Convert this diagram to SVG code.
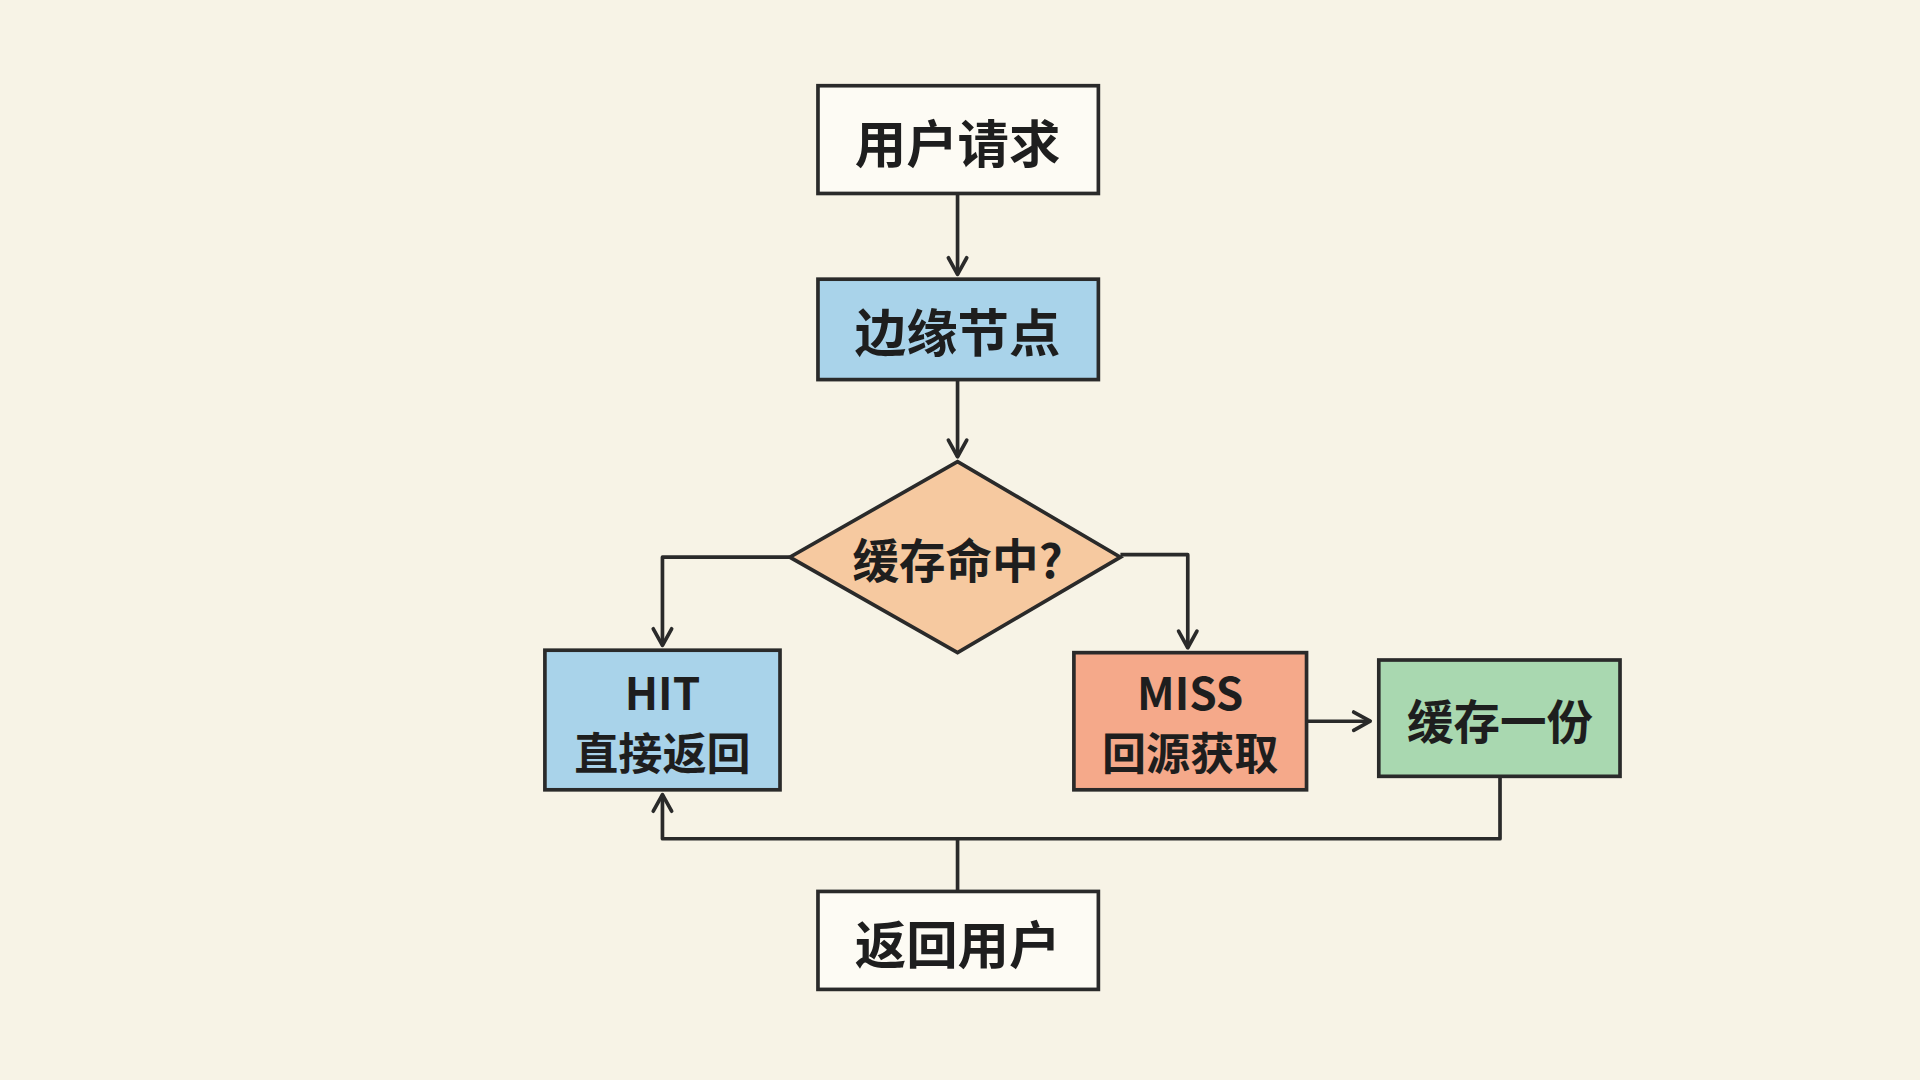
<svg xmlns="http://www.w3.org/2000/svg" width="1920" height="1080" viewBox="0 0 1920 1080">
<defs>
<style>
.n{stroke:#2a2a2a;stroke-width:3}
.t{font-family:"Noto Sans CJK SC","Liberation Sans",sans-serif;font-weight:bold;fill:#1e1e1e;text-anchor:middle;dominant-baseline:central}
.c{fill:none;stroke:#2a2a2a;stroke-width:3;stroke-linejoin:round}
</style>
<marker id="a" viewBox="0 0 12 12" refX="10" refY="6" markerWidth="18" markerHeight="18" markerUnits="userSpaceOnUse" orient="auto" overflow="visible">
<path d="M1,1 L10,6 L1,11" fill="none" stroke="#2a2a2a" stroke-width="2" stroke-linecap="round" stroke-linejoin="round"/>
</marker>
</defs>
<rect width="1920" height="1080" fill="#f7f3e6"/>
<g transform="scale(1.2245)">
<g id="connectors">
<path class="c" d="M782,158 V224" marker-end="url(#a)"/>
<path class="c" d="M782,310 V373" marker-end="url(#a)"/>
<path class="c" d="M645,455 H541 V527" marker-end="url(#a)"/>
<path class="c" d="M915,453 H970 V529" marker-end="url(#a)"/>
<path class="c" d="M1067,589 H1119" marker-end="url(#a)"/>
<path class="c" d="M1225,634 V685 H541 V649" marker-end="url(#a)"/>
<path class="c" d="M782,685 V728"/>
</g>
<g id="n1"><rect class="n" x="668" y="70" width="229" height="88" fill="#fdfbf4"/><text class="t" x="782" y="115" font-size="42">用户请求</text></g>
<g id="n2"><rect class="n" x="668" y="228" width="229" height="82" fill="#a9d3ea"/><text class="t" x="782" y="269" font-size="42">边缘节点</text></g>
<g id="n3"><polygon class="n" points="782,377 915,455 782,533 645,455" fill="#f6c9a0"/><text class="t" x="782" y="455" font-size="38">缓存命中?</text></g>
<g id="n4"><rect class="n" x="445" y="531" width="192" height="114" fill="#a9d3ea"/><text class="t" x="541" y="564" font-size="36">HIT</text><text class="t" x="541" y="613" font-size="36">直接返回</text></g>
<g id="n5"><rect class="n" x="877" y="533" width="190" height="112" fill="#f5a98a"/><text class="t" x="972" y="564" font-size="36">MISS</text><text class="t" x="972" y="613" font-size="36">回源获取</text></g>
<g id="n6"><rect class="n" x="1126" y="539" width="197" height="95" fill="#a9d8b0"/><text class="t" x="1225" y="587" font-size="38">缓存一份</text></g>
<g id="n7"><rect class="n" x="668" y="728" width="229" height="80" fill="#fdfbf4"/><text class="t" x="782" y="769" font-size="42">返回用户</text></g>
</g>
</svg>
